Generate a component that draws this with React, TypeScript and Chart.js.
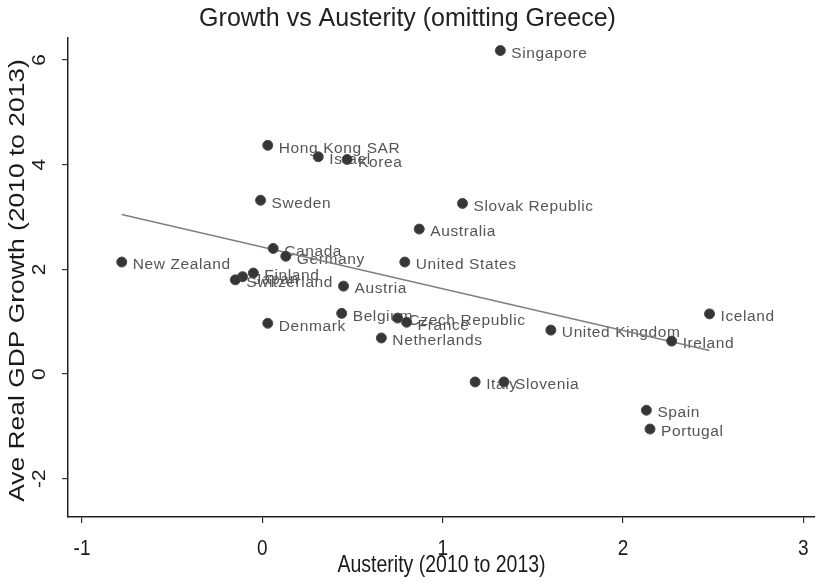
import React, { useEffect, useRef } from 'react';
import { Chart, registerables } from 'chart.js';

Chart.register(...registerables);

const countries = [
  'Singapore', 'Hong Kong SAR', 'Israel', 'Korea', 'Sweden', 'Slovak Republic',
  'Australia', 'Canada', 'Germany', 'United States', 'New Zealand', 'Finland',
  'Japan', 'Switzerland', 'Austria', 'Denmark', 'Belgium', 'Czech Republic',
  'France', 'Netherlands', 'United Kingdom', 'Iceland', 'Ireland', 'Italy',
  'Slovenia', 'Spain', 'Portugal',
];
const austerity = [
  1.32, 0.03, 0.31, 0.47, -0.01, 1.11,
  0.87, 0.06, 0.13, 0.79, -0.78, -0.05,
  -0.11, -0.15, 0.45, 0.03, 0.44, 0.75,
  0.80, 0.66, 1.60, 2.48, 2.27, 1.18,
  1.34, 2.13, 2.15,
];
const growth = [
  6.18, 4.37, 4.15, 4.10, 3.32, 3.26,
  2.77, 2.40, 2.25, 2.14, 2.14, 1.93,
  1.86, 1.80, 1.68, 0.97, 1.16, 1.07,
  0.99, 0.69, 0.84, 1.15, 0.63, -0.15,
  -0.15, -0.69, -1.05,
];
const fitX = [-0.78, 2.48];
const fitY = [3.05, 0.45];

const xTicks = [-1, 0, 1, 2, 3];
const xTickLabels = ['-1', '0', '1', '2', '3'];
const yTicks = [-2, 0, 2, 4, 6];
const yTickLabels = ['-2', '0', '2', '4', '6'];

const titleText = 'Growth vs Austerity (omitting Greece)';
const xTitleText = 'Austerity (2010 to 2013)';
const yTitleText = 'Ave Real GDP Growth (2010 to 2013)';

const SANS = '"Liberation Sans", Arial, Helvetica, sans-serif';

export default function App() {
  const ref = useRef<HTMLCanvasElement>(null);

  useEffect(() => {
    document.body.style.margin = '0';
    const canvas = ref.current;
    if (!canvas) return;

    const labelPlugin = {
      id: 'pointLabels',
      beforeDatasetsDraw(chart: any) {
        const meta = chart.getDatasetMeta(0);
        const ctx = chart.ctx as CanvasRenderingContext2D;
        ctx.save();
        ctx.font = `15.5px ${SANS}`;
        ctx.fillStyle = '#555555';
        ctx.textBaseline = 'middle';
        ctx.textAlign = 'left';
        (ctx as any).letterSpacing = '0.6px';
        meta.data.forEach((el: any, i: number) => {
          ctx.fillText(countries[i], el.x + 11, el.y + 3);
        });
        (ctx as any).letterSpacing = '0px';
        ctx.restore();
      },
    };

    const axisTextPlugin = {
      id: 'axisText',
      afterDraw(chart: any) {
        const ys = chart.scales.y;
        const xs = chart.scales.x;
        const area = chart.chartArea;
        const ctx = chart.ctx as CanvasRenderingContext2D;
        ctx.save();
        ctx.fillStyle = '#1a1a1a';
        ctx.textAlign = 'center';
        ctx.textBaseline = 'middle';

        // y tick labels (rotated, Stata style)
        ctx.font = `19px ${SANS}`;
        yTicks.forEach((v, i) => {
          const py = ys.getPixelForValue(v);
          ctx.save();
          ctx.translate(40, py);
          ctx.rotate(-Math.PI / 2);
          ctx.scale(1.1, 1);
          ctx.fillText(yTickLabels[i], 0, 0);
          ctx.restore();
        });

        // x tick labels
        ctx.font = `19px ${SANS}`;
        xTicks.forEach((v, i) => {
          const px = xs.getPixelForValue(v);
          ctx.save();
          ctx.translate(px, 549);
          ctx.scale(1, 1.18);
          ctx.fillText(xTickLabels[i], 0, 0);
          ctx.restore();
        });

        // x axis title
        ctx.save();
        ctx.font = `19.5px ${SANS}`;
        ctx.translate((area.left + area.right) / 2, 566);
        ctx.scale(1, 1.2);
        ctx.fillText(xTitleText, 0, 0);
        ctx.restore();

        // y axis title
        ctx.save();
        ctx.font = `22px ${SANS}`;
        ctx.translate(18, (area.top + area.bottom) / 2 + 3);
        ctx.rotate(-Math.PI / 2);
        ctx.scale(1.2, 1);
        ctx.fillText(yTitleText, 0, 0);
        ctx.restore();

        ctx.restore();
      },
    };

    const chart = new Chart(canvas, {
      type: 'scatter',
      data: {
        datasets: [
          {
            label: 'Countries',
            data: austerity.map((x, i) => ({ x, y: growth[i] })),
            pointRadius: 5,
            pointHoverRadius: 5,
            backgroundColor: '#363636',
            borderColor: '#4a4a4a',
            borderWidth: 1,
          },
          {
            type: 'line',
            label: 'Fit',
            data: fitX.map((x, i) => ({ x, y: fitY[i] })),
            borderColor: '#808080',
            borderWidth: 1.6,
            pointRadius: 0,
            fill: false,
          } as any,
        ],
      },
      options: {
        animation: false,
        responsive: false,
        events: [],
        layout: { autoPadding: false, padding: { left: 0, right: 2, top: 0, bottom: 0 } },
        plugins: {
          legend: { display: false },
          tooltip: { enabled: false },
          title: {
            display: true,
            text: titleText,
            color: '#222222',
            font: { family: SANS, size: 25, weight: 'normal', lineHeight: '30px' as any },
            padding: { top: 4, bottom: 4 },
          },
        },
        scales: {
          x: {
            type: 'linear',
            min: -1.078,
            max: 3.065,
            afterBuildTicks: (scale: any) => {
              scale.ticks = xTicks.map((value) => ({ value }));
            },
            afterFit: (scale: any) => {
              scale.height = 65;
              scale.paddingLeft = 0;
              scale.paddingRight = 0;
            },
            ticks: { display: false },
            grid: {
              drawOnChartArea: false,
              drawTicks: true,
              tickLength: 6,
              color: '#333333',
              lineWidth: 1.2,
            },
            border: { display: true, color: '#222222', width: 1.5 },
          },
          y: {
            type: 'linear',
            min: -2.73,
            max: 6.42,
            afterBuildTicks: (scale: any) => {
              scale.ticks = yTicks.map((value) => ({ value }));
            },
            afterFit: (scale: any) => {
              scale.width = 68;
              scale.paddingTop = 0;
              scale.paddingBottom = 0;
            },
            ticks: { display: false },
            grid: {
              drawOnChartArea: false,
              drawTicks: true,
              tickLength: 6,
              color: '#333333',
              lineWidth: 1.2,
            },
            border: { display: true, color: '#222222', width: 1.5 },
          },
        },
      },
      plugins: [labelPlugin, axisTextPlugin],
    } as any);

    return () => {
      chart.destroy();
    };
  }, []);

  return (
    <div style={{ position: 'absolute', left: 0, top: 0, width: 817, height: 582, background: '#ffffff' }}>
      <canvas ref={ref} width={817} height={582} style={{ display: 'block', width: 817, height: 582 }} />
    </div>
  );
}
